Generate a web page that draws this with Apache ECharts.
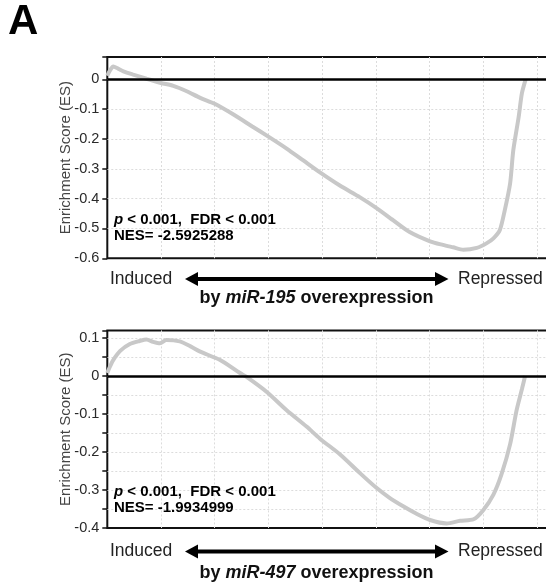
<!DOCTYPE html>
<html>
<head>
<meta charset="utf-8">
<script src="https://cdn.jsdelivr.net/npm/echarts@6/dist/echarts.min.js"></script>
<style>html,body{margin:0;padding:0;background:#fff;overflow:hidden}#c{width:546px;height:586px}</style>
</head>
<body>
<div id="c"></div>
<script>
// ---- data (rank position in grid units, running enrichment score) ----
const rank195 = [0.0,0.05,0.11,0.2,0.3,0.48,0.73,1.0,1.23,1.48,1.73,2.0,2.35,2.7,3.0,3.34,3.65,3.96,4.33,4.7,5.0,5.32,5.63,6.01,6.25,6.44,6.63,6.88,7.06,7.19,7.31,7.4,7.5,7.56,7.66,7.72,7.79];
const es195   = [0.012,0.03,0.043,0.036,0.027,0.016,0.002,-0.012,-0.022,-0.04,-0.062,-0.082,-0.118,-0.158,-0.192,-0.232,-0.272,-0.312,-0.356,-0.395,-0.43,-0.472,-0.512,-0.543,-0.555,-0.563,-0.571,-0.565,-0.55,-0.533,-0.505,-0.44,-0.35,-0.238,-0.126,-0.047,0.0];
const rank497 = [0.0,0.05,0.11,0.24,0.42,0.6,0.73,0.85,0.98,1.1,1.35,1.55,1.73,2.1,2.47,2.6,2.97,3.34,3.71,3.96,4.33,4.7,5.0,5.25,5.51,5.75,6.01,6.32,6.57,6.82,7.0,7.19,7.34,7.5,7.62,7.72,7.78];
const es497   = [0.008,0.025,0.042,0.066,0.084,0.092,0.096,0.09,0.086,0.095,0.091,0.078,0.064,0.042,0.008,-0.003,-0.042,-0.09,-0.133,-0.165,-0.206,-0.255,-0.293,-0.32,-0.343,-0.362,-0.379,-0.388,-0.381,-0.377,-0.353,-0.312,-0.259,-0.18,-0.091,-0.035,0.0];
const yTicksTop = [-0.6,-0.5,-0.4,-0.3,-0.2,-0.1,0];
const yTicksBottom = [-0.4,-0.3,-0.2,-0.1,0,0.1];
const statsTop = ['p < 0.001,  FDR < 0.001', 'NES= -2.5925288'];
const statsBottom = ['p < 0.001,  FDR < 0.001', 'NES= -1.9934999'];
const mirs = ['miR-195','miR-497'];

const FONT = '"Liberation Sans", Arial, Helvetica, sans-serif';
const pairs = (xs, ys) => xs.map((x, i) => [x, ys[i]]);

function yFmt(v){
  const t = Math.round(v*10);
  if (Math.abs(v*10 - t) > 1e-6) return '';
  return String(t/10);
}

function yAxisCfg(gi, min, max, interval, ticks){
  return {
    gridIndex: gi, type: 'value', min: min, max: max, interval: interval,
    name: 'Enrichment Score (ES)', nameLocation: 'middle', nameGap: 34, nameMoveOverlap: false,
    nameTextStyle: {fontSize: 15, color: '#444', fontFamily: FONT},
    axisLine: {show: false},
    axisTick: {show: true, inside: false, length: 5, lineStyle: {color: '#111', width: 1.5}},
    axisLabel: {fontSize: 14.5, color: '#2a2a2a', fontFamily: FONT, margin: 8,
      formatter: v => (ticks.some(t => Math.abs(t - v) < 1e-6) ? yFmt(v) : '')},
    splitLine: {show: true, showMinLine: false, showMaxLine: false,
      lineStyle: {color: '#dcdcdc', type: [2,2], width: 1}}
  };
}
function xAxisCfg(gi){
  return {
    gridIndex: gi, type: 'value', min: 0, max: 8.4, interval: 1,
    axisLine: {show: false}, axisTick: {show: false}, axisLabel: {show: false},
    splitLine: {show: true, showMinLine: false, showMaxLine: false,
      lineStyle: {color: '#dcdcdc', type: [2,2], width: 1}}
  };
}
function lineSeries(gi, data){
  return {
    type: 'line', xAxisIndex: gi, yAxisIndex: gi, data: data,
    showSymbol: false, smooth: 0.25, z: 3,
    lineStyle: {color: '#c8c8c8', width: 4},
    markLine: {silent: true, symbol: 'none', label: {show: false},
      lineStyle: {color: '#000', width: 2.5, type: 'solid'}, data: [{yAxis: 0}], animation: false}
  };
}

function statText(y, lines){
  return [
    {type: 'text', left: 114, top: y - 8, z: 10,
     style: {text: '{i|p}{b| ' + lines[0].slice(2) + '}', rich: {
       i: {fontStyle: 'italic', fontWeight: 'bold', fontSize: 15, fontFamily: FONT, fill: '#000'},
       b: {fontWeight: 'bold', fontSize: 15, fontFamily: FONT, fill: '#000'}}}},
    {type: 'text', left: 114, top: y + 8, z: 10,
     style: {text: lines[1], fontWeight: 'bold', fontSize: 15, fontFamily: FONT, fill: '#000'}}
  ];
}
function arrowRow(y, capY, mir){
  return [
    {type: 'text', x: 110, y: y, style: {text: 'Induced', fontSize: 17.5, fontFamily: FONT, fill: '#222', verticalAlign: 'middle'}},
    {type: 'text', x: 458, y: y, style: {text: 'Repressed', fontSize: 17.5, fontFamily: FONT, fill: '#222', verticalAlign: 'middle'}},
    {type: 'line', shape: {x1: 195, y1: y, x2: 438, y2: y}, style: {stroke: '#000', lineWidth: 4}},
    {type: 'polygon', shape: {points: [[185, y], [198, y - 7], [198, y + 7]]}, style: {fill: '#000'}},
    {type: 'polygon', shape: {points: [[448.5, y], [435, y - 7], [435, y + 7]]}, style: {fill: '#000'}},
    {type: 'text', x: 316.5, y: capY, style: {
      text: '{b|by }{i|' + mir + '}{b| overexpression}', align: 'center', verticalAlign: 'middle',
      rich: {b: {fontWeight: 'bold', fontSize: 18, fontFamily: FONT, fill: '#111'},
             i: {fontWeight: 'bold', fontStyle: 'italic', fontSize: 18, fontFamily: FONT, fill: '#111'}}}}
  ];
}

const chart = echarts.init(document.getElementById('c'), null, {renderer: 'canvas'});
chart.setOption({
  animation: false,
  backgroundColor: '#fff',
  grid: [
    {left: 107.3, top: 57, width: 451.1, height: 201.3, show: true, borderColor: '#111', borderWidth: 2, backgroundColor: 'transparent', containLabel: false, outerBoundsMode: 'none'},
    {left: 107.3, top: 330.4, width: 451.1, height: 197.6, show: true, borderColor: '#111', borderWidth: 2, backgroundColor: 'transparent', containLabel: false, outerBoundsMode: 'none'}
  ],
  xAxis: [xAxisCfg(0), xAxisCfg(1)],
  yAxis: [yAxisCfg(0, -0.6, 0.075, 0.1, yTicksTop), yAxisCfg(1, -0.4, 0.12, 0.05, yTicksBottom)],
  series: [lineSeries(0, pairs(rank195, es195)), lineSeries(1, pairs(rank497, es497))],
  graphic: [
    {type: 'text', x: 8, y: 22, style: {text: 'A', fontSize: 42, fontWeight: 'bold', fontFamily: FONT, fill: '#000', verticalAlign: 'middle'}},
    ...statText(228.3 - 8, statsTop),
    ...statText(500.7 - 8, statsBottom),
    ...arrowRow(279, 298.3, mirs[0]),
    ...arrowRow(551.5, 573.3, mirs[1])
  ]
});
</script>
</body>
</html>
